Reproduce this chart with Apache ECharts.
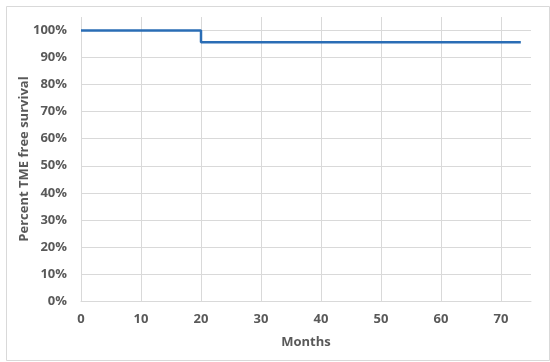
<!DOCTYPE html>
<html>
<head>
<meta charset="utf-8">
<script src="https://cdn.jsdelivr.net/npm/echarts@6/dist/echarts.min.js"></script>
<style>
html,body{margin:0;padding:0;background:#fff;}
#chart{width:550px;height:362px;}
</style>
</head>
<body>
<div id="chart"></div>
<script>
// Data
var months = [0, 20, 73.3];
var survival = [100, 95.7, 95.7];
var xTicks = [0, 10, 20, 30, 40, 50, 60, 70];
var yTicks = [0, 10, 20, 30, 40, 50, 60, 70, 80, 90, 100];

var chart = echarts.init(document.getElementById('chart'), null, {renderer: 'canvas'});
var labelStyle = {color: '#595959', fontFamily: 'Open Sans', fontWeight: 'bold', fontSize: 13};
var data = months.map(function (m, i) { return [m, survival[i]]; });

chart.setOption({
  animation: false,
  backgroundColor: '#ffffff',
  grid: {left: 81, right: 19, top: 17, bottom: 61, containLabel: false},
  graphic: [{
    type: 'rect', left: 4, top: 4,
    shape: {width: 543, height: 354},
    style: {fill: 'none', stroke: '#d9d9d9', lineWidth: 1},
    silent: true, z: -1
  }],
  xAxis: {
    type: 'value', min: 0, max: 75, interval: 10,
    name: 'Months', nameLocation: 'middle', nameGap: 35, nameMoveOverlap: false,
    nameTextStyle: {color: '#595959', fontFamily: 'Open Sans', fontWeight: 'bold', fontSize: 13},
    axisLine: {show: true, lineStyle: {color: '#d9d9d9', width: 1}},
    axisTick: {show: false},
    axisLabel: Object.assign({margin: 12, showMaxLabel: false,
      formatter: function (v) { return xTicks.indexOf(v) >= 0 ? String(v) : ''; }}, labelStyle),
    splitLine: {show: true, showMaxLine: false, lineStyle: {color: '#d9d9d9', width: 1}}
  },
  yAxis: {
    type: 'value', min: 0, max: 105, interval: 10,
    name: 'Percent TME free survival', nameLocation: 'middle', nameGap: 50, nameMoveOverlap: false,
    nameTextStyle: {color: '#595959', fontFamily: 'Open Sans', fontWeight: 'bold', fontSize: 13},
    axisLine: {show: false},
    axisTick: {show: false},
    axisLabel: Object.assign({margin: 14, showMaxLabel: false,
      formatter: function (v) { return yTicks.indexOf(v) >= 0 ? v + '%' : ''; }}, labelStyle),
    splitLine: {show: true, showMaxLine: false, lineStyle: {color: '#d9d9d9', width: 1}}
  },
  series: [{
    type: 'line', step: 'end', data: data,
    symbol: 'none',
    lineStyle: {color: '#2a6db5', width: 2.5}
  }]
});
</script>
</body>
</html>
